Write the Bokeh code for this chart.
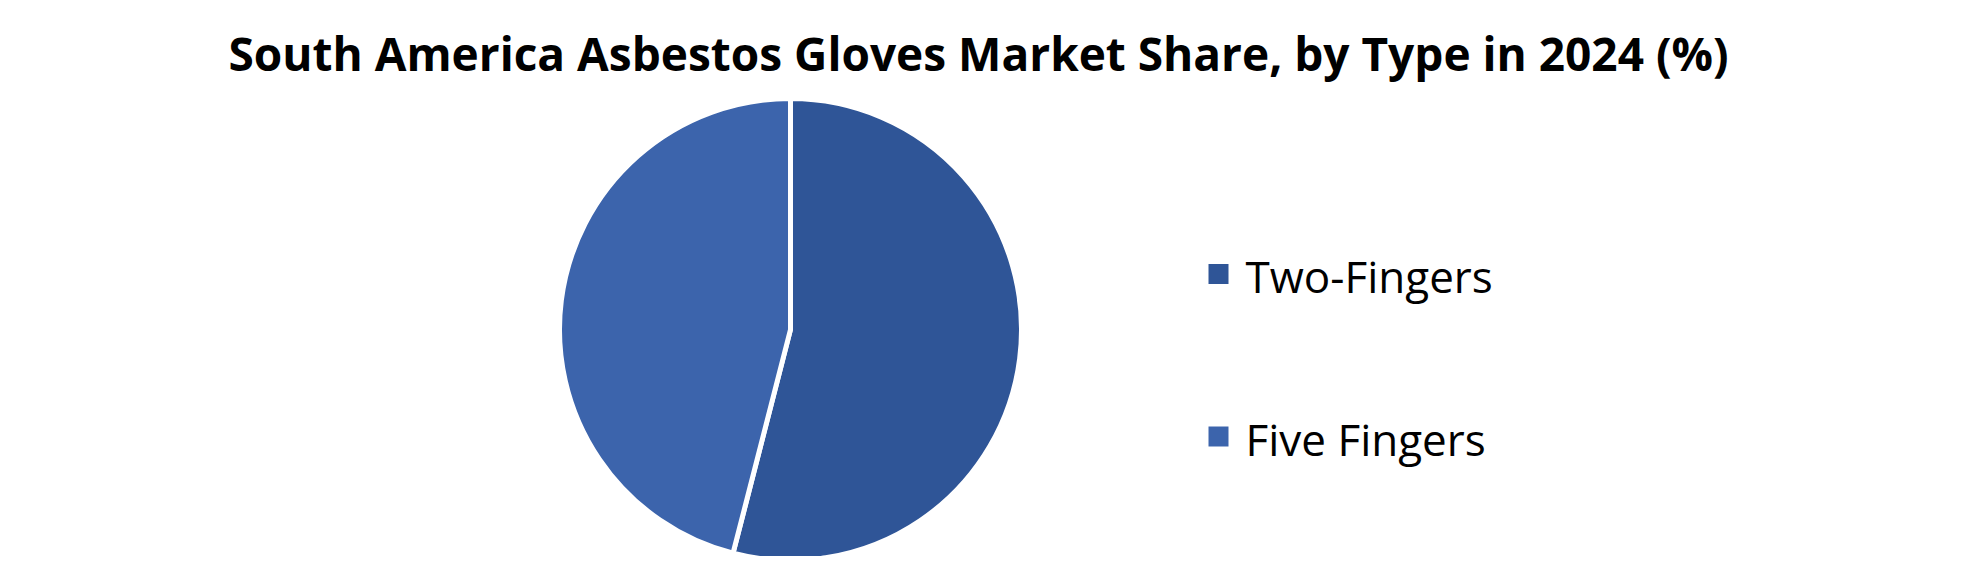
import numpy as np
from bokeh.plotting import figure
from bokeh.models import ColumnDataSource, Range1d
from bokeh.core.properties import value
from bokeh.embed import file_html
from bokeh.resources import INLINE

# ---- data ----
categories = ["Two-Fingers", "Five Fingers"]
shares = [54.0, 46.0]
colors = ["#2F5597", "#3C64AC"]
title_text = "South America Asbestos Gloves Market Share, by Type in 2024 (%)"

W, H = 1964, 556
p = figure(width=W, height=H, output_backend="svg", toolbar_location=None,
           x_range=Range1d(0, W), y_range=Range1d(0, H), min_border=0)
p.axis.visible = False
p.grid.visible = False
p.outline_line_color = None
p.background_fill_color = "white"
p.border_fill_color = "white"

# pie angles: start at 12 o'clock, go clockwise
frac = np.array(shares) / np.sum(shares)
cum = np.concatenate([[0], np.cumsum(frac)])
start = np.pi / 2 - cum[:-1] * 2 * np.pi
end = np.pi / 2 - cum[1:] * 2 * np.pi

cx, cy, r = 790, 227, 231
src = ColumnDataSource(dict(cat=categories, start=start, end=end, color=colors))
p.wedge(x=cx, y=cy, radius=r, start_angle="start", end_angle="end", direction="clock",
        fill_color="color", line_color="white", line_width=5, source=src)

# title
p.text(x=[978], y=[503.5], text=[title_text], text_font=value("Open Sans"),
       text_font_style="bold", text_font_size="46px", text_align="center",
       text_baseline="alphabetic", text_color="black")

# legend
n = len(categories)
leg_y = [282.5 - i * 162.5 for i in range(n)]
lsrc = ColumnDataSource(dict(cat=categories, y=leg_y, ty=[yy - 2 for yy in leg_y], color=colors))
p.rect(x=1218, y="y", width=20, height=20, fill_color="color", line_color=None, source=lsrc)
p.text(x=1245, y="ty", text="cat", text_font=value("Open Sans"), text_font_size="44px",
       text_align="left", text_baseline="alphabetic", text_color="black", source=lsrc)

open("out.html", "w").write(file_html(p, INLINE))
